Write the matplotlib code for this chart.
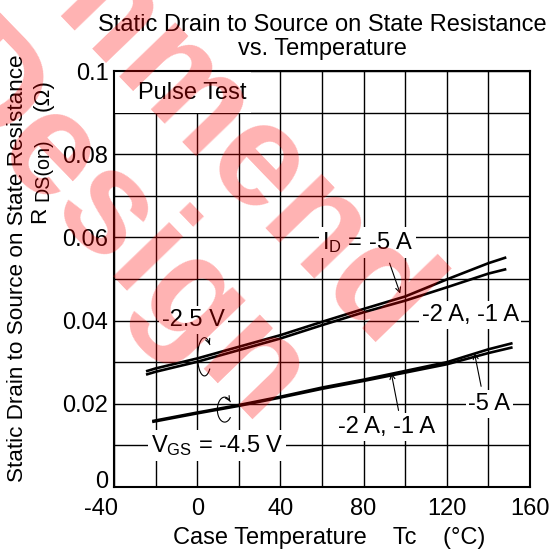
import numpy as np
import matplotlib
matplotlib.use("Agg")
import matplotlib.pyplot as plt
from matplotlib.patches import Rectangle
from matplotlib.transforms import ScaledTranslation

plt.rcParams['font.family'] = ['Liberation Sans', 'DejaVu Sans']
plt.rcParams['mathtext.fontset'] = 'custom'
plt.rcParams['mathtext.rm'] = 'Liberation Sans'
plt.rcParams['mathtext.it'] = 'Liberation Sans'

# ---------------- data ----------------
temp_hi = [-24, -20, 0, 20, 40, 60, 80, 100, 120, 140, 148]
rds_hi_5A = [0.0279, 0.0285, 0.0309, 0.0337, 0.0365, 0.0397, 0.0428, 0.0458, 0.0499, 0.0538, 0.0551]
rds_hi_2A = [0.0271, 0.0277, 0.0301, 0.0329, 0.0357, 0.0389, 0.0420, 0.0448, 0.0480, 0.0513, 0.0523]

temp_lo = [-21, 0, 20, 40, 60, 80, 100, 120, 140, 151]
rds_lo_5A = [0.0159, 0.0179, 0.0197, 0.0217, 0.0239, 0.0258, 0.0279, 0.0300, 0.0331, 0.0345]
rds_lo_2A = [0.0157, 0.0177, 0.0195, 0.0215, 0.0236, 0.0255, 0.0275, 0.0295, 0.0322, 0.0335]

x_ticks = [-40, 0, 40, 80, 120, 160]
x_ticklabels = ['-40', '0', '40', '80', '120', '160']
y_ticks = [0, 0.02, 0.04, 0.06, 0.08, 0.1]
y_ticklabels = ['0', '0.02', '0.04', '0.06', '0.08', '0.1']

FS = 17
FSV = 16.2

fig = plt.figure(figsize=(5.54, 5.51), dpi=100)
ax = fig.add_axes([114/554, 1-487/551, (530-114)/554, (487-71)/551])
ax.set_xlim(-40, 160)
ax.set_ylim(0, 0.1)
ax.set_xticks(np.arange(-40, 161, 20), minor=True)
ax.set_yticks(np.arange(0, 0.1001, 0.01), minor=True)
ax.set_xticks(x_ticks)
ax.set_xticklabels(x_ticklabels, fontsize=FS)
ax.set_yticks(y_ticks)
ax.set_yticklabels(y_ticklabels, fontsize=FS)
ax.tick_params(which='both', length=0)
ax.tick_params(axis='x', pad=8)
ax.tick_params(axis='y', pad=4)
ax.grid(which='both', color='black', lw=1.0)
ax.set_axisbelow(True)
for s in ax.spines.values():
    s.set_linewidth(1.5)

# the corner labels are nudged apart as in the original
lab_x0 = ax.get_xticklabels()[0]
lab_x0.set_transform(lab_x0.get_transform() + ScaledTranslation(-0.13, 0, fig.dpi_scale_trans))
lab_y0 = ax.get_yticklabels()[0]
lab_y0.set_transform(lab_y0.get_transform() + ScaledTranslation(0, 0.07, fig.dpi_scale_trans))

lw = 1.9
ax.plot(temp_hi, rds_hi_5A, color='black', lw=lw, zorder=4)
ax.plot(temp_hi, rds_hi_2A, color='black', lw=lw, zorder=4)
ax.plot(temp_lo, rds_lo_5A, color='black', lw=lw, zorder=4)
ax.plot(temp_lo, rds_lo_2A, color='black', lw=lw, zorder=4)

box = dict(facecolor='white', edgecolor='none', pad=2)

# Pulse test label area
ax.add_patch(Rectangle((0, 0.9), 0.33, 0.1, transform=ax.transAxes,
                       facecolor='white', edgecolor='none', zorder=2))
ax.text(-28.7, 0.0946, 'Pulse Test', fontsize=FS, ha='left', va='center', zorder=5)

ax.text(82, 0.0588, r'I$_{\mathrm{D}}$ = -5 A', fontsize=FS, ha='center', va='center', bbox=box, zorder=5)
ax.text(131.2, 0.0413, '-2 A, -1 A', fontsize=FS, ha='center', va='center', bbox=box, zorder=5)
ax.text(-1.7, 0.0401, '-2.5 V', fontsize=FS, ha='center', va='center', bbox=box, zorder=5)
ax.text(140.5, 0.0199, '-5 A', fontsize=FS, ha='center', va='center', bbox=box, zorder=5)
ax.text(90.9, 0.0144, '-2 A, -1 A', fontsize=FS, ha='center', va='center', bbox=box, zorder=5)
ax.text(9.7, 0.0100, r'V$_{\mathrm{GS}}$ = -4.5 V', fontsize=FS, ha='center', va='center', bbox=box, zorder=5)

arr = dict(arrowstyle='->', color='black', lw=0.8, shrinkA=0, shrinkB=0, mutation_scale=9)
ax.annotate('', xy=(97.6, 0.0465), xytext=(92.5, 0.0538), arrowprops=arr, zorder=6)
ax.annotate('', xy=(133.3, 0.0322), xytext=(136.5, 0.0242), arrowprops=arr, zorder=6)
ax.annotate('', xy=(93.3, 0.0274), xytext=(96.8, 0.0184), arrowprops=arr, zorder=6)

# curly loop arrows marking the curve groups
def loop(cx, cy, a, b):
    th = np.radians(np.linspace(-40, -320, 60))
    xs = cx + a*np.cos(th)
    ys = cy + b*np.sin(th)
    ax.plot(xs, ys, color='black', lw=0.8, zorder=6)
    ax.annotate('', xy=(xs[-1], ys[-1]), xytext=(xs[-4], ys[-4]),
                arrowprops=dict(arrowstyle='->', color='black', lw=0.8,
                                shrinkA=0, shrinkB=0, mutation_scale=8), zorder=6)

loop(3.5, 0.0313, 3.3, 0.0046)
loop(13.2, 0.0186, 3.5, 0.0030)

# titles and axis labels
fig.text(322/554, 1-30.7/551, 'Static Drain to Source on State Resistance',
         fontsize=FS, ha='center', va='baseline')
fig.text(322/554, 1-55/551, 'vs. Temperature', fontsize=FS, ha='center', va='baseline')
fig.text(18/554, 1-268/551, 'Static Drain to Source on State Resistance',
         fontsize=FSV, rotation=90, ha='center', va='center')
fig.text(39.5/554, 1-223/551, 'R', fontsize=FSV, rotation=90, ha='center', va='bottom')
fig.text(43/554, 1-201/551, 'DS(on)', fontsize=FSV*0.88, rotation=90, ha='center', va='bottom')
fig.text(43/554, 1-111/551, '(Ω)', fontsize=FSV, rotation=90, ha='center', va='bottom')
fig.text(329.5/554, 1-544/551, 'Case Temperature    Tc    (°C)',
         fontsize=FS, ha='center', va='baseline')

# watermark
wm = dict(rotation=-46, rotation_mode='anchor', ha='right', va='baseline',
          fontsize=105, fontweight='bold', color='red', alpha=0.3, zorder=10)
fig.text(382/554, 1-348/551, 'Not Recommend', **wm)
fig.text(258/554, 1-425/551, 'for New Design', **wm)

fig.savefig('out.png', dpi=100)
